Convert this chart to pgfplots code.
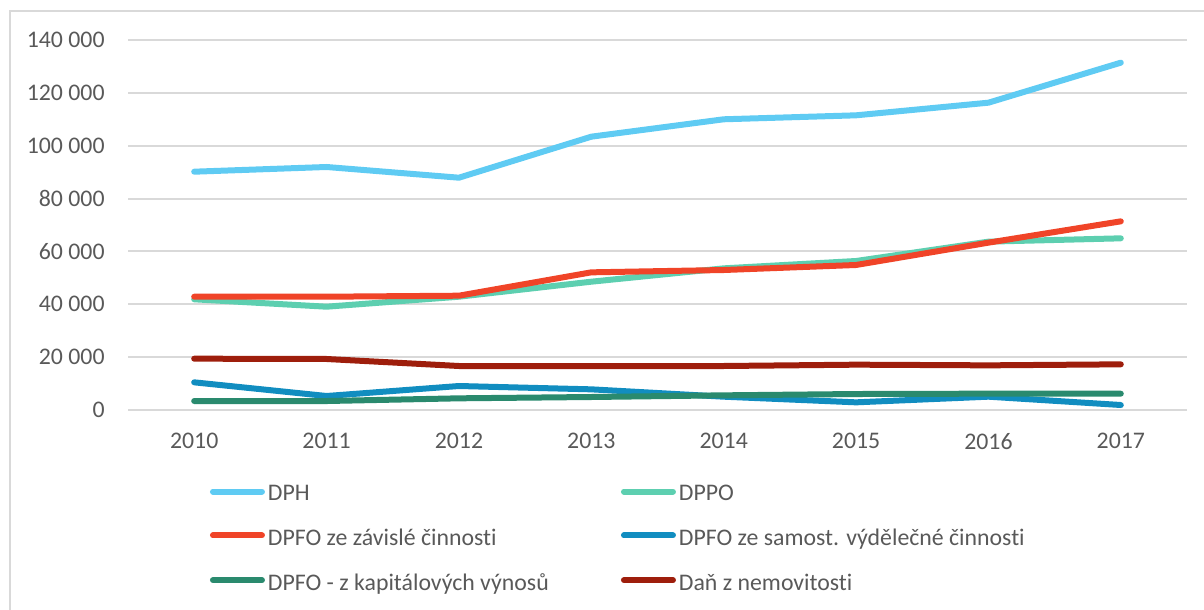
\documentclass[border=0pt]{standalone}
\usepackage{fontspec}
\setmainfont{Carlito}[Ligatures=NoCommon]
\usepackage{pgfplots}
\pgfplotsset{compat=1.18}

\definecolor{cDPH}{HTML}{5FCBF3}
\definecolor{cDPPO}{HTML}{5DCFB0}
\definecolor{cZav}{HTML}{F04428}
\definecolor{cSam}{HTML}{118DC0}
\definecolor{cKap}{HTML}{2A8A6E}
\definecolor{cNem}{HTML}{9E1E0C}
\definecolor{gridgray}{HTML}{D9D9D9}
\definecolor{txtgray}{HTML}{595959}

% legend texts: first column has a fixed width so the second column starts in the right place
\newcommand{\legA}[1]{\makebox[178pt][l]{\hspace{1.5pt}#1}}
\newcommand{\legB}[1]{\makebox[200pt][l]{\hspace{1.5pt}#1}}

\begin{document}
\begin{tikzpicture}[font=\fontsize{11.9}{14}\selectfont]
\useasboundingbox (0,0) rectangle (602pt,-305pt);
\clip (0,0) rectangle (602pt,-305pt);
\draw[gridgray, line width=0.7pt] (5pt,-5.5pt) rectangle (640pt,-340pt);
\begin{axis}[
  at={(64pt,-205pt)}, anchor=south west,
  width=529.5pt, height=185pt, scale only axis,
  xmin=-0.5, xmax=7.5, ymin=0, ymax=140000,
  scaled y ticks=false,
  xtick={0,1,2,3,4,5,6,7},
  xticklabels={2010,2011,2012,2013,2014,2015,2016,2017},
  ytick={0,20000,40000,60000,80000,100000,120000,140000},
  yticklabels={0,20 000,40 000,60 000,80 000,100 000,120 000,140 000},
  axis line style={draw=none},
  major tick length=0pt,
  ymajorgrids, grid style={gridgray, line width=1pt},
  tick label style={text=txtgray, inner sep=0pt},
  yticklabel style={anchor=east, xshift=-11.5pt},
  xticklabel style={anchor=north, yshift=-11.5pt},
  legend columns=2,
  legend cell align=left,
  legend style={at={(0.0774,-0.2040)}, anchor=north west, draw=none, fill=none,
    inner sep=0pt, outer sep=0pt, row sep=12.5pt,
    nodes={inner sep=0pt, text=txtgray}},
  legend image code/.code={\draw[#1, line width=3pt, line cap=round] (0pt,1.6pt) -- (24.5pt,1.6pt);},
  every axis plot/.append style={no markers, line width=3pt, line cap=round, line join=round},
]
\addplot[cDPH] coordinates {(0,90170) (1,91950) (2,87900) (3,103420) (4,110000) (5,111500) (6,116280) (7,131420)};
\addlegendentry{\legA{DPH}}
\addplot[cDPPO] coordinates {(0,41890) (1,39090) (2,42870) (3,48550) (4,53600) (5,56380) (6,63700) (7,64960)};
\addlegendentry{\legB{DPPO}}
\addplot[cZav] coordinates {(0,42870) (1,42870) (2,43250) (3,52090) (4,52970) (5,54870) (6,63320) (7,71390)};
\addlegendentry{\legA{DPFO ze závislé činnosti}}
\addplot[cSam] coordinates {(0,10470) (1,5300) (2,9080) (3,7820) (4,5040) (5,2900) (6,5040) (7,1890)};
\addlegendentry{\legB{DPFO ze samost. výdělečné činnosti}}
\addplot[cKap] coordinates {(0,3400) (1,3400) (2,4420) (3,4920) (4,5550) (5,6050) (6,6180) (7,6180)};
\addlegendentry{\legA{DPFO - z kapitálových výnosů}}
\addplot[cNem] coordinates {(0,19420) (1,19300) (2,16650) (3,16650) (4,16650) (5,17150) (6,16900) (7,17280)};
\addlegendentry{\legB{Daň z nemovitosti}}
\end{axis}
\end{tikzpicture}
\end{document}
